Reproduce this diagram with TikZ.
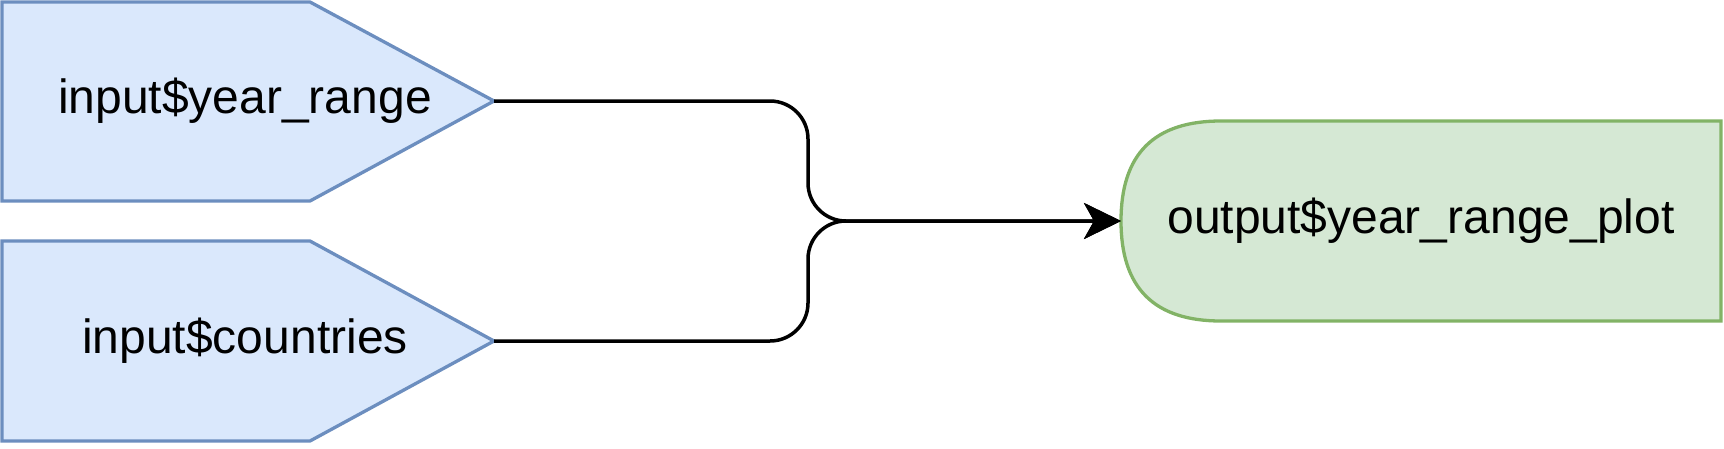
\documentclass[tikz,border=0pt]{standalone}
\usepackage{fontspec}
\setmainfont{Liberation Sans}
\usetikzlibrary{arrows.meta}
\definecolor{infill}{HTML}{DAE8FC}
\definecolor{inline}{HTML}{6C8EBF}
\definecolor{outfill}{HTML}{D5E8D4}
\definecolor{outline}{HTML}{82B366}
\begin{document}
\begin{tikzpicture}[x=1pt,y=-1pt,
  inshape/.style={draw=inline, fill=infill, line width=3.3pt, line join=miter},
  outshape/.style={draw=outline, fill=outfill, line width=3.3pt},
  lbl/.style={font=\fontsize{48}{57}\selectfont, inner sep=0pt},
  wire/.style={line width=3.5pt, rounded corners=38pt, -{Stealth[length=37pt, width=36pt, inset=10pt]}}]
  \useasboundingbox (0,0) rectangle (1724,448);
  % inputs
  \draw[inshape] (2,2) -- (310,2) -- (494,101) -- (310,201) -- (2,201) -- cycle;
  \draw[inshape] (2,241) -- (310,241) -- (494,341) -- (310,441) -- (2,441) -- cycle;
  \node[lbl] (yrange) at (245,101) {input\$year\_range};
  \node[lbl] (countries) at (245,341) {input\$countries};
  \coordinate (yrtip) at (494,101);
  \coordinate (cttip) at (494,341);
  % output
  \draw[outshape] (1721,121) -- (1221,121) .. controls (1154,121) and (1121,154) .. (1121,221)
    .. controls (1121,288) and (1154,321) .. (1221,321) -- (1721,321) -- cycle;
  \node[lbl] (plot) at (1421,221) {output\$year\_range\_plot};
  \coordinate (plotin) at (1121,221);
  % connectors
  \draw[wire] (yrtip) -- (808,101) -- (808,221) -- (plotin);
  \draw[wire] (cttip) -- (808,341) -- (808,221) -- (plotin);
\end{tikzpicture}
\end{document}
